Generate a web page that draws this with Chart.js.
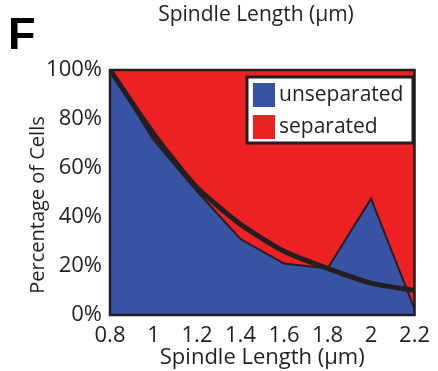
<!DOCTYPE html>
<html>
<head>
<meta charset="utf-8">
<script src="https://cdn.jsdelivr.net/npm/chart.js@4"></script>
<style>
  html, body { margin: 0; padding: 0; background: #fff; }
  #wrap { width: 438px; height: 371px; position: relative; }
</style>
</head>
<body>
<div id="wrap"><canvas id="fractionChart"></canvas></div>
<script>
// spindle length (um) on the x axis
const spindleLengths = [0.8, 1.0, 1.2, 1.4, 1.6, 1.8, 2.0, 2.2];
// percentage of cells with unseparated chromosomes
const unseparated = [100, 71.5, 50.5, 31, 21, 19, 47.5, 2.5];
// top of the stack (all cells)
const allCells = [100, 100, 100, 100, 100, 100, 100, 100];
// thick black fitted curve
const fitCurve = [100, 74, 52, 37, 26, 19, 13, 10];
const yTicks = [0, 20, 40, 60, 80, 100];

const BLUE = "#3953A4";
const RED = "#ED2024";
const INK = "#231F20";
const FONT = "'Open Sans', sans-serif";

const pts = arr => spindleLengths.map((x, i) => ({ x: x, y: arr[i] }));

/** --------------- frame, legend, labels ---------------- */
const decorations = {
    id: "decorations",
    afterDatasetsDraw(chart) {
        const { ctx, chartArea: a } = chart;
        ctx.save();
        // plot frame
        ctx.strokeStyle = INK;
        ctx.lineWidth = 2.5;
        ctx.strokeRect(a.left, a.top, a.right - a.left, a.bottom - a.top);

        // legend box
        const lx = 247, ly = 77, lw = 166, lh = 66;
        ctx.fillStyle = "#fff";
        ctx.fillRect(lx, ly, lw, lh);
        ctx.lineWidth = 3;
        ctx.strokeRect(lx, ly, lw, lh);
        const entries = chart.data.datasets.slice(0, 2);
        ctx.font = "21px " + FONT;
        ctx.textBaseline = "middle";
        entries.forEach((ds, i) => {
            const y = ly + 6 + i * 32;
            ctx.fillStyle = ds.backgroundColor;
            ctx.fillRect(lx + 6, y, 22, 24);
            ctx.fillStyle = INK;
            ctx.fillText(ds.label, lx + 32, y + 12);
        });

        // y axis title (sits a bit below the plot centre in the original)
        ctx.save();
        ctx.translate(38, 205);
        ctx.rotate(-Math.PI / 2);
        ctx.textAlign = "center";
        ctx.fillStyle = INK;
        ctx.font = "20px " + FONT;
        ctx.fillText("Percentage of Cells", 0, 0);
        ctx.restore();

        // panel letter + cut label from the panel above
        ctx.fillStyle = "#000";
        ctx.font = "bold 45px 'Liberation Sans', Arial, sans-serif";
        ctx.textBaseline = "alphabetic";
        ctx.textAlign = "left";
        ctx.fillText("F", 8, 49);
        ctx.fillStyle = INK;
        ctx.font = "21px " + FONT;
        ctx.textAlign = "center";
        ctx.fillText("Spindle Length (\u03bcm)", 256, 21);
        ctx.restore();
    }
};

const ctx = document.getElementById("fractionChart");
new Chart(ctx.getContext("2d"), {
    type: "line",
    data: {
        datasets: [
            {
                label: "unseparated",
                data: pts(unseparated),
                backgroundColor: BLUE,
                borderColor: INK,
                borderWidth: 2,
                fill: "origin",
                pointRadius: 0,
                tension: 0,
                order: 3,
            },
            {
                label: "separated",
                data: pts(allCells),
                backgroundColor: RED,
                borderWidth: 0,
                fill: "-1",
                pointRadius: 0,
                order: 4,
            },
            {
                label: "fit",
                data: pts(fitCurve),
                borderColor: INK,
                borderWidth: 5,
                fill: false,
                pointRadius: 0,
                tension: 0.2,
                order: 1,
            },
        ],
    },
    options: {
        responsive: true,
        maintainAspectRatio: false,
        animation: false,
        layout: { padding: { top: 70, right: 16, left: 0, bottom: 0 } },
        scales: {
            x: {
                type: "linear",
                min: 0.8,
                max: 2.2,
                grid: { display: false, drawTicks: false },
                border: { display: false },
                ticks: {
                    stepSize: 0.2,
                    padding: 8,
                    color: INK,
                    font: { family: FONT, size: 22 },
                    callback: v => String(Number(v.toFixed(1))),
                },
                title: {
                    display: true,
                    text: "Spindle Length (\u03bcm)",
                    color: INK,
                    font: { family: FONT, size: 22 },
                    padding: { top: -8, bottom: 0 },
                },
                afterFit: s => { s.height = 56; },
            },
            y: {
                min: 0,
                max: 100,
                grid: { display: false, drawTicks: false },
                border: { display: false },
                afterBuildTicks: s => { s.ticks = yTicks.map(v => ({ value: v })); },
                ticks: {
                    padding: 8,
                    color: INK,
                    font: { family: FONT, size: 22 },
                    callback: v => v + "%",
                },
                afterFit: s => { s.width = 110; },
            },
        },
        plugins: {
            legend: { display: false },
            tooltip: { enabled: false },
        },
    },
    plugins: [decorations],
});
</script>
</body>
</html>
